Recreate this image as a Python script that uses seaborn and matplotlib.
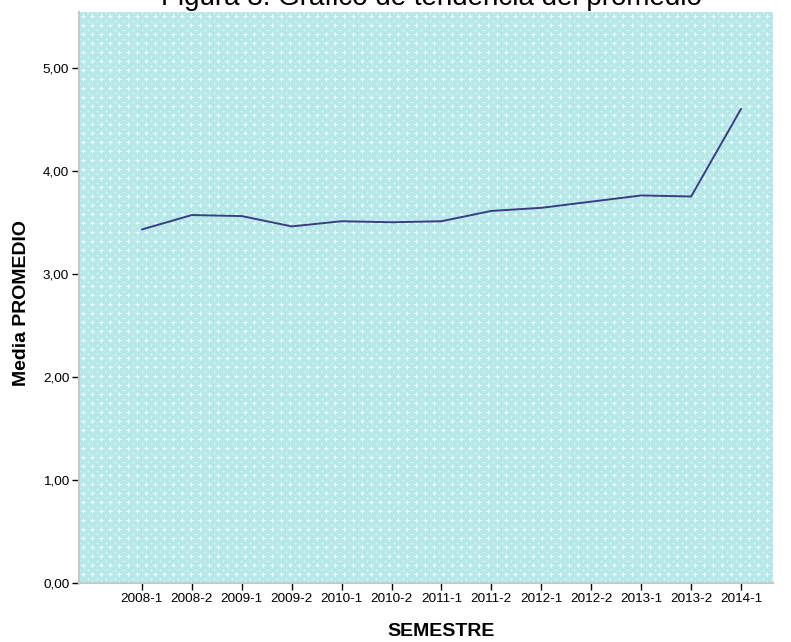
import numpy as np
import pandas as pd
import matplotlib
matplotlib.use("Agg")
import matplotlib.pyplot as plt
import seaborn as sns

semestres = ["2008-1", "2008-2", "2009-1", "2009-2", "2010-1", "2010-2", "2011-1",
             "2011-2", "2012-1", "2012-2", "2013-1", "2013-2", "2014-1"]
promedio = [3.43, 3.57, 3.56, 3.46, 3.51, 3.50, 3.51, 3.61, 3.64, 3.70, 3.76, 3.75, 4.60]
yticks = [0, 1, 2, 3, 4, 5]
ytick_labels = ["0,00", "1,00", "2,00", "3,00", "4,00", "5,00"]

df = pd.DataFrame({"SEMESTRE": semestres, "PROMEDIO": promedio})
df["pos"] = range(len(df))

sns.set_style("white")
plt.rcParams['font.family'] = ['Liberation Sans', 'DejaVu Sans']
plt.rcParams['text.color'] = 'black'
plt.rcParams['axes.labelcolor'] = 'black'
plt.rcParams['xtick.color'] = 'black'
plt.rcParams['ytick.color'] = 'black'

fig = plt.figure(figsize=(7.91, 6.42), dpi=100)
left, right, top, bottom = 79, 773, 12, 583
ax = fig.add_axes([left/791, 1 - bottom/642, (right - left)/791, (bottom - top)/642])

# background pattern of small white crosses (SPSS style fill)
base = np.array([0.72, 0.91, 0.91])
light = np.array([0.88, 0.97, 0.97])
mid = np.array([0.80, 0.94, 0.94])
n = 9
tile = np.tile(base, (n, n, 1))
tile[4, 2:7] = light
tile[2:7, 4] = light
tile[3:6, 4] = [0.97, 1, 1]
tile[4, 3:6] = [0.97, 1, 1]
tile[0, 0] = mid
tile[0, 1] = mid
tile[0, n - 1] = mid
tile[1, 0] = mid
tile[n - 1, 0] = mid
h, w = bottom - top, right - left
pattern = np.tile(tile, (h // n + 1, w // n + 1, 1))[:h, :w]

ax.set_xlim(-1.26, 12.64)
ax.set_ylim(0, 5.54)
ax.imshow(pattern, extent=[-1.26, 12.64, 0, 5.54], aspect="auto",
          interpolation="nearest", zorder=0)

sns.lineplot(data=df, x="pos", y="PROMEDIO", ax=ax, color="#3a3d85", linewidth=1.4, zorder=3)

ax.set_xlim(-1.26, 12.64)
ax.set_ylim(0, 5.54)
ax.set_xticks(df["pos"])
ax.set_xticklabels(semestres, fontsize=9.7)
ax.set_yticks(yticks)
ax.set_yticklabels(ytick_labels, fontsize=9.7)
ax.tick_params(axis="both", direction="out", length=5, width=1, color="black", pad=2,
               bottom=True, left=True)

for s in ["top", "right"]:
    ax.spines[s].set_visible(False)
for s in ["left", "bottom"]:
    ax.spines[s].set_color("#c8c8c8")
    ax.spines[s].set_linewidth(1.5)

ax.set_xlabel("SEMESTRE", fontsize=14, fontweight="bold")
ax.set_ylabel("Media PROMEDIO", fontsize=14, fontweight="bold")
ax.xaxis.set_label_coords((441 - left) / (right - left), -(632 - bottom) / (bottom - top))
ax.yaxis.set_label_coords(-(left - 22) / (right - left), 0.49)
ax.xaxis.label.set_va("center")
ax.yaxis.label.set_va("center")

fig.text(431/791, 1 - 5/642, "Figura 3. Gráfico de tendencia del promedio", fontsize=20,
         ha="center", va="baseline")

fig.savefig("out.png", dpi=100)
